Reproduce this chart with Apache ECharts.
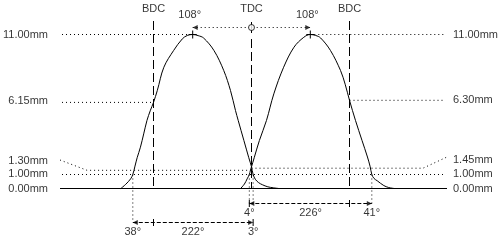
<!DOCTYPE html>
<html><head><meta charset="utf-8">
<script src="https://cdn.jsdelivr.net/npm/echarts@6.0.0/dist/echarts.min.js"></script>
<style>html,body{margin:0;padding:0;background:#fff}#c{width:500px;height:240px}</style>
</head><body><div id="c"></div>
<script>
// ---------- data (crank degrees relative to TDC, lift in mm) ----------
const exhaustLift = [[-240,0],[-231,0.3],[-222,0.69],[-218,1.0],[-214,1.6],[-210,2.2],[-204,2.95],[-198,3.9],[-192,4.86],[-186,5.55],[-180,6.15],[-173,7.0],[-161,8.66],[-143,9.86],[-127,10.69],[-118,10.93],[-108,11.0],[-98,10.92],[-88,10.75],[-69,9.86],[-51,8.43],[-38.6,7.0],[-29.4,5.57],[-24.4,4.86],[-14,3.43],[-5,2.2],[0,1.55],[3,1.0],[7,0.66],[13,0.42],[20,0.27],[30,0.12],[40,0.05],[50,0]];
const intakeLift = [[-20,0],[-13,0.32],[-8,0.69],[-4,1.0],[-2,1.3],[0,1.55],[5,2.2],[14.5,3.43],[27.5,4.86],[41,6.76],[59,8.66],[78,10.09],[96,10.8],[108,11.0],[118,10.93],[127,10.75],[145,9.86],[163.5,8.43],[172,7.45],[180,6.3],[191,4.86],[203,3.43],[213,2.25],[218,1.55],[221,1.0],[225,0.72],[231,0.55],[243,0.21],[252,0.07],[262,0]];
const refNames = ['BDC','TDC','BDC'];
const refDeg = [-180, 0, 180];
const peakDeg = [-108, 108];
const peakLift = 11.0;
const peakLabels = ['108°','108°'];
const leftTickValues = [11.00, 6.15, 1.30, 1.00, 0.00];
const leftTickLabels = ['11.00mm','6.15mm','1.30mm','1.00mm','0.00mm'];
const rightTickValues = [11.00, 6.30, 1.45, 1.00, 0.00];
const rightTickLabels = ['11.00mm','6.30mm','1.45mm','1.00mm','0.00mm'];
const checkLift = 1.00;
const exhaustOpenDeg = -218, exhaustCloseDeg = 3;
const intakeOpenDeg = -4, intakeCloseDeg = 221;
const exhaustTimingLabels = ['38°','222°','3°'];
const intakeTimingLabels = ['4°','226°','41°'];

// ---------- layout ----------
const W = 500, H = 240;
const PX_PER_DEG = 98/180, TDC_PX = 251.5, GRID_L = 60, GRID_R = 447;
const X_MIN = (GRID_L - TDC_PX)/PX_PER_DEG, X_MAX = (GRID_R - TDC_PX)/PX_PER_DEG;
const PX_PER_MM = 14, BASE_PX = 188.5;
const Y_MIN = -(H - BASE_PX)/PX_PER_MM, Y_MAX = BASE_PX/PX_PER_MM;
const degOf = px => (px - TDC_PX)/PX_PER_DEG;
const yOf = px => (BASE_PX - px)/PX_PER_MM;
const dDeg = px => px/PX_PER_DEG, dMM = px => px/PX_PER_MM;

const ROW_REF_LABEL = yOf(8.5), ROW_PEAK_LABEL = yOf(15), ROW_ARROW = yOf(27.5);
const ROW_DIM1 = yOf(203.5), ROW_DIM1_LABEL = yOf(212.5);
const ROW_DIM2 = yOf(222.5), ROW_DIM2_LABEL = yOf(232);
const LINE_L = degOf(62), LINE_R = degOf(445);
const LEFT_LABEL_X = degOf(48.5), RIGHT_LABEL_X = degOf(452.5);
const leftLabelShift = [0,-1,-9,-1,0];
const rightLabelShift = [0,0,-8,-1,0];

const FONT = {color:'#000', fontSize:11, fontFamily:'Liberation Sans, Arial, sans-serif'};
const series = [];
function seg(pts, type, w){
  series.push({type:'line', data:pts, symbol:'none', silent:true, animation:false, clip:false,
    lineStyle:{color:'#000', width:w||1, type:type||'solid'}, z:3});
}
const DOT = [1,3], DASH = [9,4], DIMDASH = [4,2];

// curves
[exhaustLift, intakeLift].forEach(d => series.push({type:'line', data:d, symbol:'none', smooth:0.35,
  silent:true, animation:false, lineStyle:{color:'#000', width:1}, z:5}));

// baseline
seg([[X_MIN,0],[X_MAX,0]]);
// horizontal reference lines
seg([[LINE_L, leftTickValues[0]],[peakDeg[0], leftTickValues[0]]], DOT);
seg([[peakDeg[1], rightTickValues[0]],[LINE_R, rightTickValues[0]]], DOT);
seg([[LINE_L, leftTickValues[1]],[refDeg[0], leftTickValues[1]]], DOT);
seg([[refDeg[2], rightTickValues[1]],[LINE_R, rightTickValues[1]]], DOT);
seg([[X_MIN, yOf(160)],[degOf(87), leftTickValues[2]],[refDeg[1], leftTickValues[2]]], DOT);
seg([[refDeg[1], rightTickValues[2]],[degOf(423), rightTickValues[2]],[X_MAX, yOf(157)]], DOT);
seg([[LINE_L, checkLift],[LINE_R, checkLift]], DOT);
// BDC / TDC dashed
seg([[refDeg[0], yOf(21)],[refDeg[0], 0]], DASH);
seg([[refDeg[2], yOf(21)],[refDeg[2], 0]], DASH);
seg([[refDeg[1], yOf(39)],[refDeg[1], 0]], DASH);
// TDC marker + dotted arrow between peaks
seg([[refDeg[1], yOf(22)],[refDeg[1], yOf(33)]]);
seg([[peakDeg[0], ROW_ARROW],[peakDeg[1], ROW_ARROW]], DOT);
// peak crosses
peakDeg.forEach(p => {
  seg([[p - dDeg(4), peakLift],[p + dDeg(4), peakLift]]);
  seg([[p, peakLift + dMM(4)],[p, peakLift - dMM(4)]]);
});
// extension lines at 1 mm
seg([[exhaustOpenDeg, checkLift],[exhaustOpenDeg, ROW_DIM2]], DOT);
seg([[intakeCloseDeg, checkLift],[intakeCloseDeg, ROW_DIM1]], DOT);
seg([[intakeOpenDeg, checkLift],[intakeOpenDeg, ROW_DIM1]], DOT);
seg([[exhaustCloseDeg, checkLift],[exhaustCloseDeg, ROW_DIM1]], DOT);
// dimension lines
seg([[intakeOpenDeg, ROW_DIM1],[intakeCloseDeg, ROW_DIM1]], DIMDASH);
seg([[exhaustOpenDeg, ROW_DIM2],[exhaustCloseDeg, ROW_DIM2]], DIMDASH);
[[intakeOpenDeg, ROW_DIM1],[refDeg[2], ROW_DIM1],[refDeg[0], ROW_DIM2],[exhaustCloseDeg, ROW_DIM2]].forEach(t =>
  seg([[t[0], t[1] + dMM(3.5)],[t[0], t[1] - dMM(3.5)]]));

// arrowheads
const arrowL = 'path://M10,0L0,5L10,10Z', arrowR = 'path://M0,0L10,5L0,10Z';
series.push({type:'scatter', data:[[intakeOpenDeg, ROW_DIM1],[exhaustOpenDeg, ROW_DIM2],[peakDeg[0], ROW_ARROW]],
  symbol:arrowL, symbolSize:[5,5], symbolOffset:[2.5,0], itemStyle:{color:'#000'}, silent:true, clip:false, animation:false, z:6});
series.push({type:'scatter', data:[[intakeCloseDeg, ROW_DIM1],[exhaustCloseDeg, ROW_DIM2],[peakDeg[1], ROW_ARROW]],
  symbol:arrowR, symbolSize:[5,5], symbolOffset:[-2.5,0], itemStyle:{color:'#000'}, silent:true, clip:false, animation:false, z:6});
series.push({type:'scatter', data:[[refDeg[1], ROW_ARROW]], symbol:'circle', symbolSize:6,
  itemStyle:{color:'#fff', borderColor:'#000', borderWidth:1}, silent:true, clip:false, animation:false, z:7});

// texts
const texts = [];
function txt(x, y, s, pos, off){ texts.push({value:[x,y,s], label:{position:pos||'inside', offset:off||[0,0]}}); }
refNames.forEach((n,i) => txt(refDeg[i], ROW_REF_LABEL, n));
peakLabels.forEach((n,i) => txt(peakDeg[i], ROW_PEAK_LABEL, n, 'inside', [-3,0]));
leftTickLabels.forEach((n,i) => txt(LEFT_LABEL_X, leftTickValues[i], n, 'left', [0,leftLabelShift[i]]));
rightTickLabels.forEach((n,i) => txt(RIGHT_LABEL_X, rightTickValues[i], n, 'right', [0,rightLabelShift[i]]));
txt(intakeOpenDeg, ROW_DIM1_LABEL, intakeTimingLabels[0]);
txt((intakeOpenDeg + intakeCloseDeg)/2, ROW_DIM1_LABEL, intakeTimingLabels[1]);
txt(intakeCloseDeg, ROW_DIM1_LABEL, intakeTimingLabels[2]);
txt(exhaustOpenDeg, ROW_DIM2_LABEL, exhaustTimingLabels[0]);
txt((exhaustOpenDeg + exhaustCloseDeg)/2, ROW_DIM2_LABEL, exhaustTimingLabels[1]);
txt(exhaustCloseDeg, ROW_DIM2_LABEL, exhaustTimingLabels[2]);
series.push({type:'scatter', data:texts, symbolSize:1, itemStyle:{color:'rgba(0,0,0,0)'}, silent:true, clip:false, animation:false, z:10,
  label:Object.assign({show:true, distance:0, formatter:p => p.value[2]}, FONT)});

const chart = echarts.init(document.getElementById('c'));
chart.setOption({
  animation:false,
  backgroundColor:'#fff',
  grid:{left:GRID_L, right:W - GRID_R, top:0, bottom:0},
  xAxis:{type:'value', min:X_MIN, max:X_MAX, show:false},
  yAxis:{type:'value', min:Y_MIN, max:Y_MAX, show:false},
  series:series
});
</script></body></html>
